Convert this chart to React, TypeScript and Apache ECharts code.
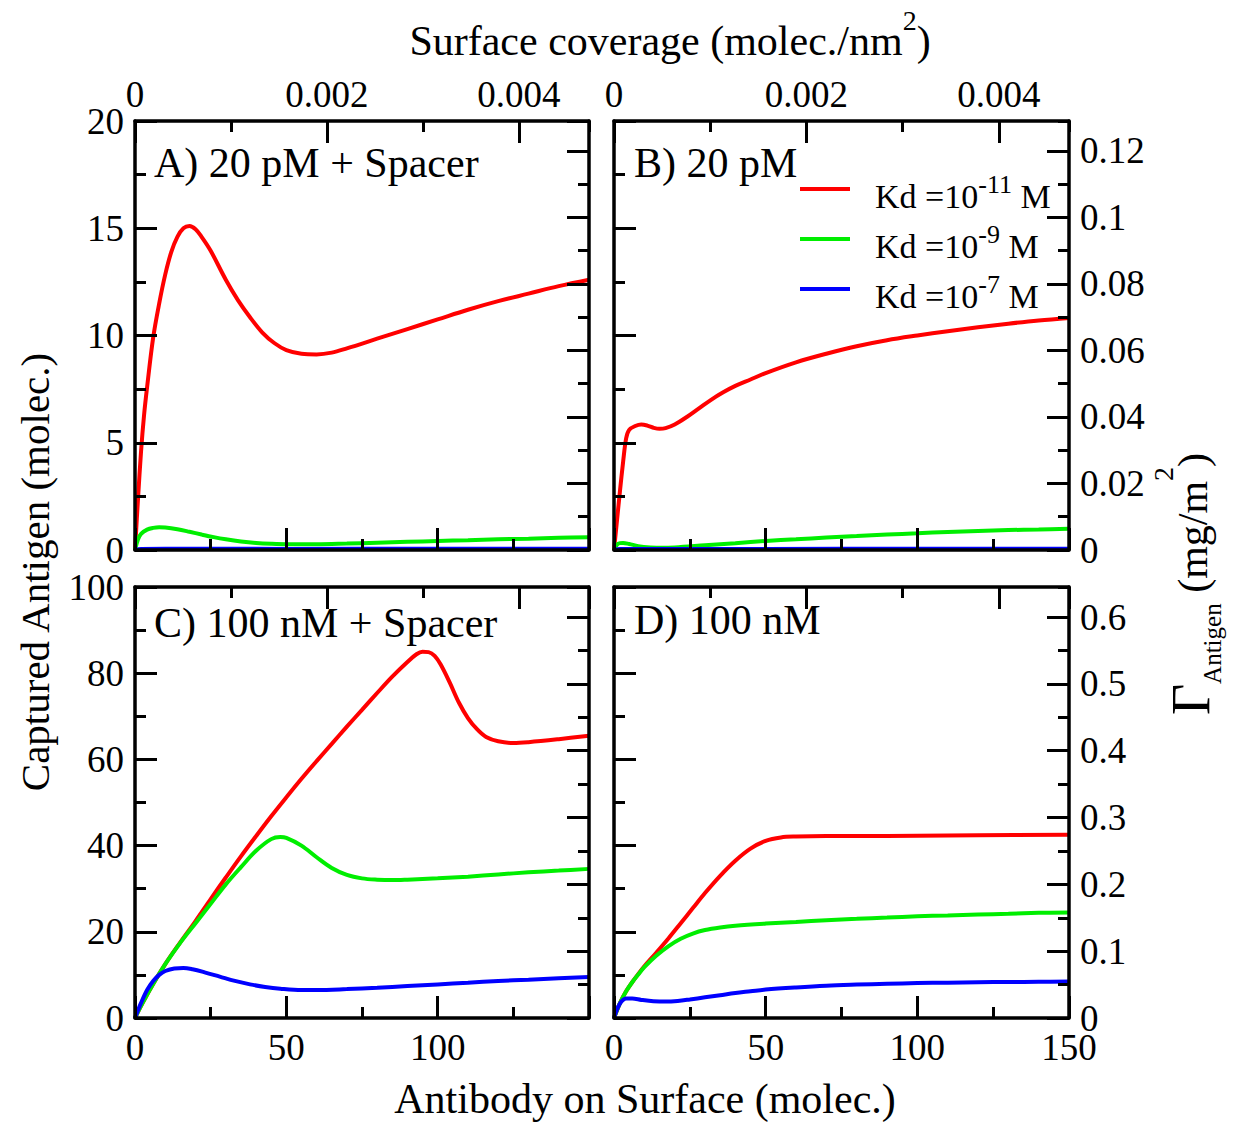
import React, { useEffect, useRef } from 'react';
import * as echarts from 'echarts';

const SERIF = '"Liberation Serif", "Times New Roman", Times, serif';

// Bottom axis: antibody count; top axis: the same surface as a coverage
const ANTIBODY_MAX = 150;
const ANTIBODY_STEP = 50;
const COVERAGE_MAX = 0.00473;
const COVERAGE_STEP = 0.002;

// Left axis: captured antigen (molec.); right axis: the same amount in mg/m²
const ANTIGEN_MAX = [20, 20, 100, 100];
const ANTIGEN_STEP = [5, 5, 20, 20];
const GAMMA_MAX = [0.129, 0.129, 0.645, 0.645];
const GAMMA_STEP = [0.02, 0.02, 0.1, 0.1];

const PANEL_TITLES = ['A) 20 pM + Spacer', 'B) 20 pM', 'C) 100 nM + Spacer', 'D) 100 nM'];

const KD_NAMES = ['Kd =10^-11 M', 'Kd =10^-9 M', 'Kd =10^-7 M'];
const KD_EXPONENTS = ['-11', '-9', '-7'];
const KD_COLORS = ['#ff0000', '#00ee00', '#0000ff'];

// A) 20 pM with spacer
const a_kd11 = [[0, 0], [1, 2.4], [2, 4.6], [3, 6.3], [4, 7.6], [6, 9.9], [8, 11.5], [10, 12.85], [12, 13.9], [14, 14.6], [16, 15.0], [18, 15.1], [20, 14.95], [22, 14.6], [25, 13.95], [30, 12.6], [34, 11.65], [38, 10.85], [42, 10.15], [46, 9.65], [50, 9.32], [55, 9.15], [60, 9.12], [65, 9.2], [70, 9.4], [80, 9.85], [90, 10.3], [100, 10.75], [110, 11.2], [120, 11.6], [130, 11.95], [140, 12.3], [150, 12.6]];
const a_kd9 = [[0, 0], [1, 0.5], [2, 0.75], [4, 0.95], [6, 1.03], [8, 1.06], [10, 1.05], [14, 0.97], [18, 0.85], [22, 0.72], [26, 0.6], [30, 0.5], [35, 0.4], [40, 0.33], [45, 0.29], [50, 0.27], [60, 0.27], [70, 0.3], [80, 0.34], [90, 0.38], [100, 0.42], [110, 0.46], [120, 0.5], [130, 0.53], [140, 0.57], [150, 0.6]];
const a_kd7 = [[0, 0], [2, 0.05], [10, 0.06], [50, 0.05], [100, 0.06], [150, 0.06]];

// B) 20 pM
const b_kd11 = [[0, 0], [1, 1.4], [2, 2.8], [3, 4.1], [4, 5.2], [5, 5.6], [7, 5.78], [9, 5.85], [11, 5.8], [13, 5.7], [15, 5.65], [17, 5.68], [20, 5.85], [24, 6.2], [28, 6.6], [32, 7.0], [36, 7.35], [40, 7.65], [45, 7.95], [50, 8.25], [60, 8.75], [70, 9.15], [80, 9.5], [90, 9.78], [100, 10.0], [110, 10.2], [120, 10.38], [130, 10.55], [140, 10.7], [150, 10.82]];
const b_kd9 = [[0, 0], [1, 0.25], [2, 0.32], [3, 0.33], [5, 0.28], [8, 0.18], [12, 0.12], [16, 0.1], [20, 0.12], [30, 0.22], [40, 0.32], [50, 0.42], [60, 0.5], [70, 0.58], [80, 0.65], [90, 0.72], [100, 0.78], [110, 0.84], [120, 0.89], [130, 0.93], [140, 0.96], [150, 0.99]];
const b_kd7 = [[0, 0], [2, 0.05], [10, 0.05], [50, 0.05], [100, 0.06], [150, 0.06]];

// C) 100 nM with spacer
const c_kd11 = [[0, 0], [2, 2.8], [5, 6.7], [10, 12.5], [15, 17.6], [20, 22.5], [25, 27.6], [30, 32.6], [35, 37.5], [40, 42.2], [45, 46.8], [50, 51.2], [55, 55.5], [60, 59.6], [65, 63.6], [70, 67.6], [75, 71.5], [80, 75.4], [85, 79.2], [90, 82.6], [93, 84.4], [95, 85.0], [97, 84.9], [99, 84.0], [101, 82.0], [104, 77.8], [107, 73.2], [110, 69.6], [113, 67.0], [116, 65.2], [120, 64.2], [125, 63.8], [130, 64.0], [140, 64.7], [150, 65.5]];
const c_kd9 = [[0, 0], [2, 2.8], [5, 6.7], [10, 12.5], [15, 17.5], [20, 22.0], [25, 26.5], [30, 31], [35, 35], [40, 38.8], [45, 41.5], [48, 42], [50, 41.8], [55, 40], [60, 37.3], [65, 34.8], [70, 33.2], [75, 32.4], [80, 32.1], [85, 32.0], [90, 32.1], [100, 32.4], [110, 32.8], [120, 33.3], [130, 33.8], [140, 34.2], [150, 34.6]];
const c_kd7 = [[0, 0], [2, 3.5], [4, 6.5], [6, 8.6], [8, 10.0], [10, 10.9], [13, 11.5], [16, 11.6], [19, 11.3], [23, 10.6], [28, 9.6], [33, 8.6], [38, 7.8], [43, 7.2], [48, 6.8], [55, 6.5], [60, 6.5], [70, 6.7], [80, 7.0], [90, 7.4], [100, 7.8], [110, 8.2], [120, 8.6], [130, 8.9], [140, 9.2], [150, 9.5]];

// D) 100 nM
const d_kd11 = [[0, 0], [2, 3.5], [4, 6.2], [6, 8.3], [8, 10.2], [10, 12.0], [14, 15.2], [18, 18.5], [22, 22], [26, 25.5], [30, 29], [35, 33], [40, 36.5], [45, 39.3], [50, 41.1], [55, 41.9], [60, 42.1], [70, 42.2], [80, 42.2], [100, 42.3], [120, 42.4], [150, 42.5]];
const d_kd9 = [[0, 0], [2, 3.5], [4, 6.2], [6, 8.3], [8, 10.1], [10, 11.8], [14, 14.5], [18, 16.7], [22, 18.4], [26, 19.6], [30, 20.4], [35, 21.0], [40, 21.4], [50, 21.9], [60, 22.3], [70, 22.7], [80, 23.0], [90, 23.3], [100, 23.6], [110, 23.8], [120, 24.0], [130, 24.2], [140, 24.4], [150, 24.5]];
const d_kd7 = [[0, 0], [1, 2.0], [2, 3.4], [3, 4.2], [4, 4.5], [6, 4.5], [9, 4.2], [13, 3.9], [17, 3.8], [21, 3.95], [25, 4.3], [30, 4.8], [35, 5.3], [40, 5.8], [45, 6.2], [50, 6.6], [60, 7.1], [70, 7.5], [80, 7.75], [90, 7.95], [100, 8.1], [110, 8.2], [120, 8.3], [130, 8.35], [140, 8.4], [150, 8.45]];

const PANEL_CURVES = [
  [a_kd11, a_kd9, a_kd7],
  [b_kd11, b_kd9, b_kd7],
  [c_kd11, c_kd9, c_kd7],
  [d_kd11, d_kd9, d_kd7],
];

// Plot rectangles of the 2x2 layout
const GRIDS = [
  { left: 135, top: 121, width: 454, height: 429 },
  { left: 614, top: 121, width: 455, height: 429 },
  { left: 135, top: 587, width: 454, height: 431 },
  { left: 614, top: 587, width: 455, height: 431 },
];
const TITLE_POS = [
  [154, 163],
  [634, 163],
  [154, 623],
  [634, 620],
];

const frameLine = { show: true, onZero: false, lineStyle: { color: '#000', width: 3.5 } };
const hiddenLine = { show: false, onZero: false };
const ticks = (length: number) => ({ show: true, inside: true, length, lineStyle: { color: '#000', width: 3 } });
const minorTicks = { show: true, splitNumber: 2, length: 11, lineStyle: { color: '#000', width: 3 } };
const noSplit = { show: false };
const labelFont = { fontFamily: SERIF, fontSize: 37, color: '#000' };
const fmt = (v: number) => (v === 0 ? '0' : String(parseFloat(v.toFixed(4))));
const AXIS_Z = 10;

function buildOption() {
  const grid: any[] = [];
  const xAxis: any[] = [];
  const yAxis: any[] = [];
  const series: any[] = [];

  for (let p = 0; p < 4; p++) {
    const row = p >> 1;
    const col = p & 1;
    grid.push({ ...GRIDS[p], containLabel: false });

    xAxis.push(
      {
        gridIndex: p, type: 'value', position: 'bottom', min: 0, max: ANTIBODY_MAX, interval: ANTIBODY_STEP, z: AXIS_Z,
        axisLine: frameLine, axisTick: ticks(22), minorTick: minorTicks, splitLine: noSplit, minorSplitLine: noSplit,
        axisLabel: { show: row === 1, margin: 11, showMaxLabel: col === 1, formatter: fmt, ...labelFont },
      },
      {
        gridIndex: p, type: 'value', position: 'top', min: 0, max: COVERAGE_MAX, interval: COVERAGE_STEP, z: AXIS_Z,
        axisLine: frameLine, axisTick: ticks(22), splitLine: noSplit,
        axisLabel: { show: row === 0, margin: 8, showMaxLabel: false, formatter: fmt, ...labelFont },
      },
      {
        gridIndex: p, type: 'value', position: 'top', min: 0, max: COVERAGE_MAX, interval: COVERAGE_STEP / 2, z: AXIS_Z,
        axisLine: hiddenLine, axisTick: ticks(11), splitLine: noSplit, axisLabel: { show: false },
      },
    );

    yAxis.push(
      {
        gridIndex: p, type: 'value', position: 'left', min: 0, max: ANTIGEN_MAX[p], interval: ANTIGEN_STEP[p], z: AXIS_Z,
        axisLine: frameLine, axisTick: ticks(22), minorTick: minorTicks, splitLine: noSplit, minorSplitLine: noSplit,
        axisLabel: { show: col === 0, margin: 11, formatter: fmt, ...labelFont },
      },
      {
        gridIndex: p, type: 'value', position: 'right', min: 0, max: GAMMA_MAX[p], interval: GAMMA_STEP[p], z: AXIS_Z,
        axisLine: frameLine, axisTick: ticks(22), splitLine: noSplit,
        axisLabel: { show: col === 1, margin: 11, showMaxLabel: false, formatter: fmt, ...labelFont },
      },
      {
        gridIndex: p, type: 'value', position: 'right', min: 0, max: GAMMA_MAX[p], interval: GAMMA_STEP[p] / 2, z: AXIS_Z,
        axisLine: hiddenLine, axisTick: ticks(11), splitLine: noSplit, axisLabel: { show: false },
      },
    );

    PANEL_CURVES[p].forEach((data, k) => {
      series.push({
        type: 'line',
        name: KD_NAMES[k],
        xAxisIndex: p * 3,
        yAxisIndex: p * 3,
        data,
        symbol: 'none',
        showSymbol: false,
        smooth: 0.35,
        lineStyle: { color: KD_COLORS[k], width: 4 },
        itemStyle: { color: KD_COLORS[k] },
        z: 2 + k,
      });
    });
  }

  const graphic: any[] = PANEL_TITLES.map((t, p) => ({
    type: 'text',
    x: TITLE_POS[p][0],
    y: TITLE_POS[p][1],
    style: { text: t, font: `42px ${SERIF}`, fill: '#000', textAlign: 'left', textVerticalAlign: 'middle' },
  }));

  graphic.push(
    {
      type: 'text', x: 670, y: 34,
      style: {
        text: '{m|Surface coverage (molec./nm}{s|2}{m|)}',
        fill: '#000', textAlign: 'center', textVerticalAlign: 'middle',
        rich: {
          m: { font: `42px ${SERIF}`, fill: '#000', padding: [13, 0, 0, 0], verticalAlign: 'top' },
          s: { font: `28px ${SERIF}`, fill: '#000', padding: [0, 0, 0, 0], verticalAlign: 'top' },
        },
      },
    },
    {
      type: 'text', x: 645, y: 1099,
      style: { text: 'Antibody on Surface (molec.)', font: `42px ${SERIF}`, fill: '#000', textAlign: 'center', textVerticalAlign: 'middle' },
    },
    {
      type: 'text', x: 35, y: 572, rotation: Math.PI / 2,
      style: { text: 'Captured Antigen (molec.)', font: `41px ${SERIF}`, fill: '#000', textAlign: 'center', textVerticalAlign: 'middle' },
    },
    {
      type: 'text', x: 1187, y: 584, rotation: Math.PI / 2,
      style: {
        text: '{g|Γ}{b|Antigen}{m| (mg/m}{s|2}{m|)}',
        fill: '#000', textAlign: 'center', textVerticalAlign: 'middle',
        rich: {
          g: { font: `54px ${SERIF}`, fill: '#000', padding: [14, 0, 0, 0], verticalAlign: 'top' },
          b: { font: `25px ${SERIF}`, fill: '#000', padding: [50, 0, 0, 0], verticalAlign: 'top' },
          m: { font: `42px ${SERIF}`, fill: '#000', padding: [22, 0, 0, 0], verticalAlign: 'top' },
          s: { font: `28px ${SERIF}`, fill: '#000', padding: [0, 0, 0, 0], verticalAlign: 'top' },
        },
      },
    },
  );

  return {
    animation: false,
    backgroundColor: '#fff',
    grid,
    xAxis,
    yAxis,
    series,
    graphic,
    legend: {
      data: KD_NAMES,
      left: 800,
      top: 171,
      orient: 'vertical',
      padding: 0,
      itemGap: 8,
      itemWidth: 50,
      itemHeight: 4,
      icon: 'rect',
      selectedMode: false,
      formatter: (name: string) => {
        const k = KD_NAMES.indexOf(name);
        return `{a|Kd =10}{s|${KD_EXPONENTS[k]}}{m| M}`;
      },
      textStyle: {
        color: '#000',
        fontFamily: SERIF,
        fontSize: 34,
        rich: {
          a: { fontFamily: SERIF, fontSize: 34, color: '#000', padding: [14, 0, 0, 20], verticalAlign: 'top' },
          m: { fontFamily: SERIF, fontSize: 34, color: '#000', padding: [14, 0, 0, 0], verticalAlign: 'top' },
          s: { fontFamily: SERIF, fontSize: 26, color: '#000', padding: [6, 0, 0, 0], verticalAlign: 'top' },
        },
      },
    },
  };
}

export default function App() {
  const ref = useRef<HTMLDivElement>(null);

  useEffect(() => {
    document.body.style.margin = '0';
    if (!ref.current) return;
    const chart = echarts.init(ref.current, null, { renderer: 'svg' });
    chart.setOption(buildOption() as any);
    return () => chart.dispose();
  }, []);

  return <div ref={ref} style={{ width: 1238, height: 1122, background: '#fff' }} />;
}
